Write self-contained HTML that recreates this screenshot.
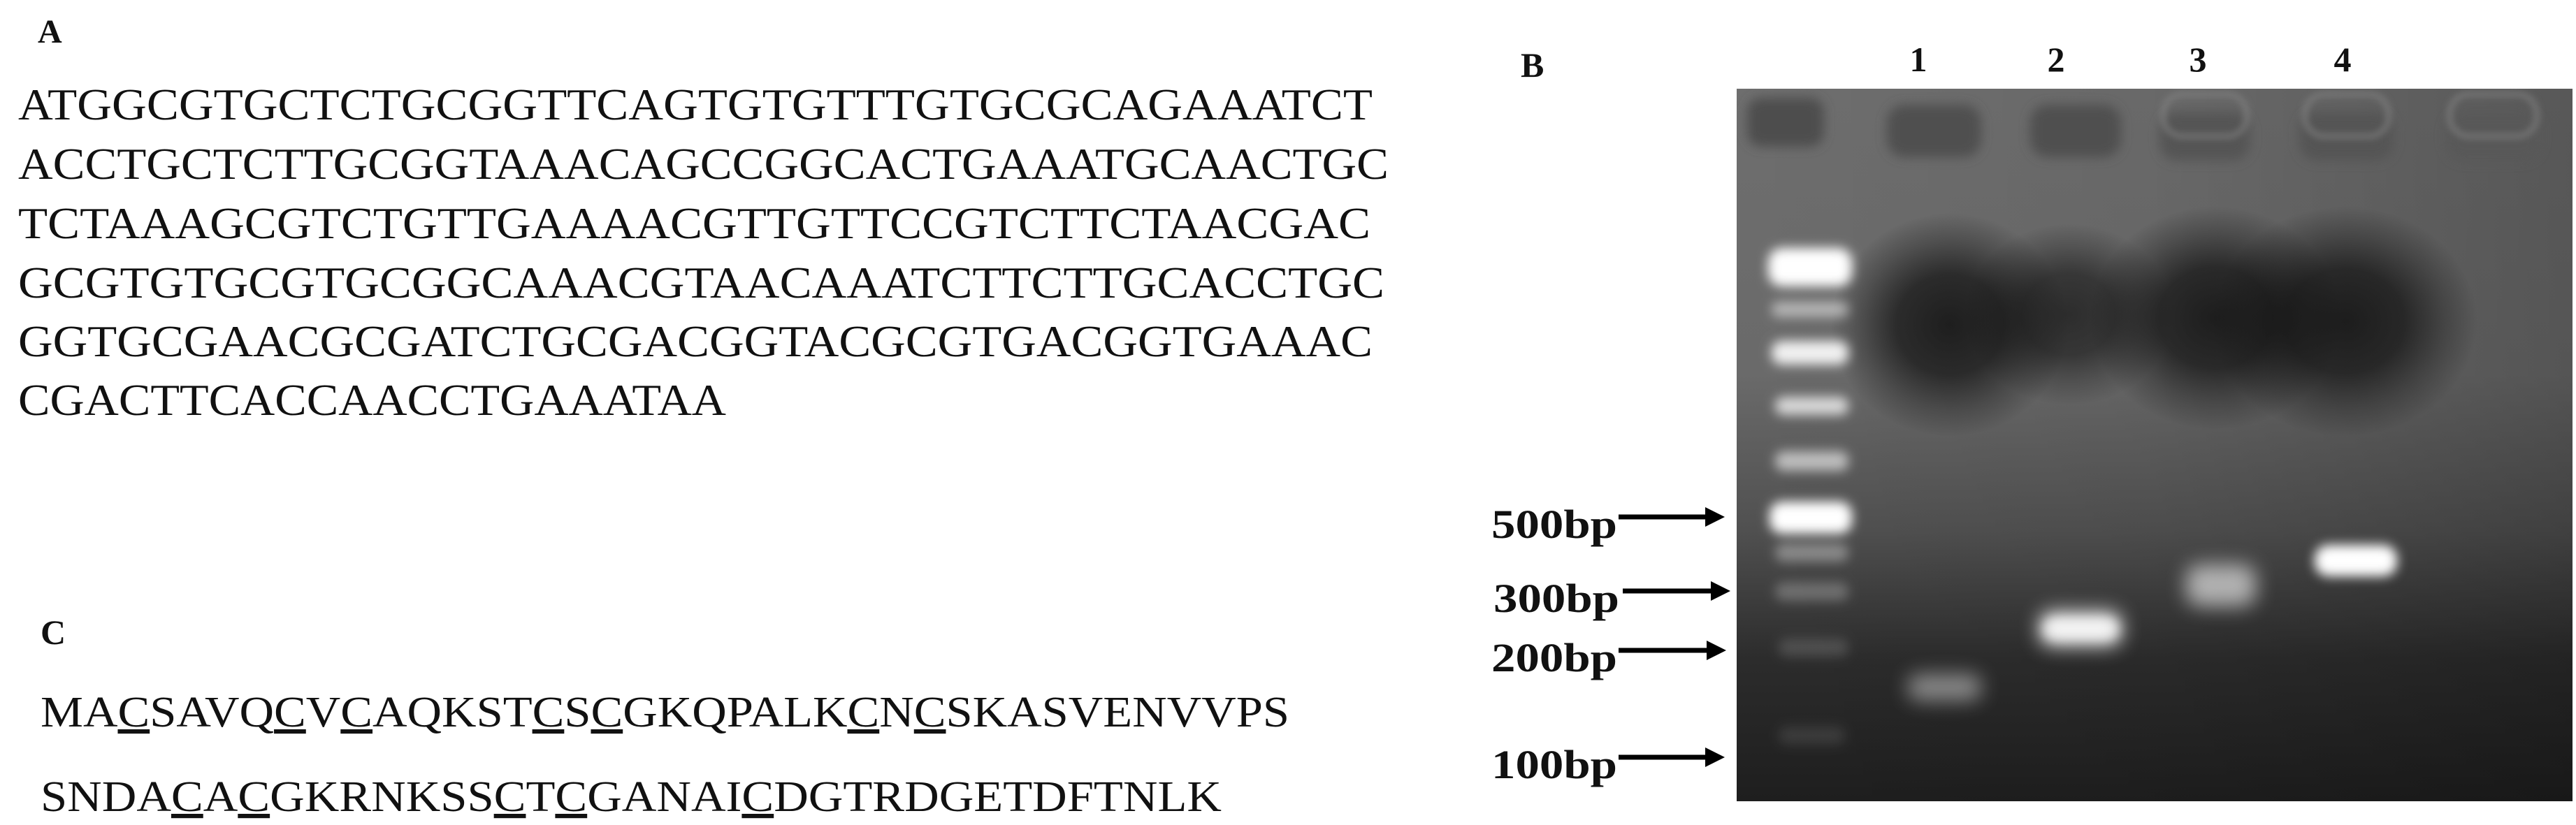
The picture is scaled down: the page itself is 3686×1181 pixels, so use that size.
<!DOCTYPE html>
<html><head><meta charset="utf-8"><style>
html,body{margin:0;padding:0;background:#fff;width:3686px;height:1181px;overflow:hidden;}
svg{display:block;}
</style></head><body>
<svg width="3686" height="1181" viewBox="0 0 3686 1181" xmlns="http://www.w3.org/2000/svg">
<defs>
<filter id="b8" filterUnits="userSpaceOnUse" x="2400" y="0" width="1400" height="1300"><feGaussianBlur stdDeviation="8"/></filter>
<filter id="b14" filterUnits="userSpaceOnUse" x="2400" y="0" width="1400" height="1300"><feGaussianBlur stdDeviation="14"/></filter>
<filter id="b5" filterUnits="userSpaceOnUse" x="2400" y="0" width="1400" height="1300"><feGaussianBlur stdDeviation="5"/></filter>
<radialGradient id="rd">
<stop offset="0" stop-color="#111" stop-opacity="0.85"/>
<stop offset="0.45" stop-color="#111" stop-opacity="0.7"/>
<stop offset="0.75" stop-color="#111" stop-opacity="0.3"/>
<stop offset="1" stop-color="#111" stop-opacity="0"/>
</radialGradient>
<linearGradient id="gv" x1="0" y1="0" x2="0" y2="1">
<stop offset="0" stop-color="#6e6e6e"/><stop offset="0.4" stop-color="#6a6a6a"/>
<stop offset="0.62" stop-color="#505050"/><stop offset="0.8" stop-color="#2c2c2c"/><stop offset="1" stop-color="#1e1e1e"/>
</linearGradient>
<linearGradient id="gh" x1="0" y1="0" x2="1" y2="0">
<stop offset="0" stop-color="#000" stop-opacity="0"/><stop offset="0.5" stop-color="#000" stop-opacity="0.05"/><stop offset="1" stop-color="#000" stop-opacity="0.2"/>
</linearGradient>
<clipPath id="gc"><rect x="2485" y="127" width="1196" height="1020"/></clipPath>
</defs>

<g font-family="'Liberation Serif', serif" fill="#111">
<text x="54" y="61" font-size="48" font-weight="bold">A</text>
<g font-size="64">
<text x="26" y="171" textLength="1938" lengthAdjust="spacingAndGlyphs">ATGGCGTGCTCTGCGGTTCAGTGTGTTTGTGCGCAGAAATCT</text>
<text x="26" y="256" textLength="1961" lengthAdjust="spacingAndGlyphs">ACCTGCTCTTGCGGTAAACAGCCGGCACTGAAATGCAACTGC</text>
<text x="26" y="341" textLength="1935" lengthAdjust="spacingAndGlyphs">TCTAAAGCGTCTGTTGAAAACGTTGTTCCGTCTTCTAACGAC</text>
<text x="26" y="426" textLength="1955" lengthAdjust="spacingAndGlyphs">GCGTGTGCGTGCGGCAAACGTAACAAATCTTCTTGCACCTGC</text>
<text x="26" y="510" textLength="1938" lengthAdjust="spacingAndGlyphs">GGTGCGAACGCGATCTGCGACGGTACGCGTGACGGTGAAAC</text>
<text x="26" y="594" textLength="1013" lengthAdjust="spacingAndGlyphs">CGACTTCACCAACCTGAAATAA</text>
</g>
<text x="58" y="922" font-size="50" font-weight="bold">C</text>
<g font-size="62">
<text x="58" y="1040" textLength="1787" lengthAdjust="spacingAndGlyphs">MA<tspan text-decoration="underline">C</tspan>SAVQ<tspan text-decoration="underline">C</tspan>V<tspan text-decoration="underline">C</tspan>AQKST<tspan text-decoration="underline">C</tspan>S<tspan text-decoration="underline">C</tspan>GKQPALK<tspan text-decoration="underline">C</tspan>N<tspan text-decoration="underline">C</tspan>SKASVENVVPS</text>
<text x="58" y="1161" textLength="1690" lengthAdjust="spacingAndGlyphs">SNDA<tspan text-decoration="underline">C</tspan>A<tspan text-decoration="underline">C</tspan>GKRNKSS<tspan text-decoration="underline">C</tspan>T<tspan text-decoration="underline">C</tspan>GANAI<tspan text-decoration="underline">C</tspan>DGTRDGETDFTNLK</text>
</g>

<text x="2176" y="110" font-size="50" font-weight="bold">B</text>
<g font-size="50" font-weight="bold" text-anchor="middle">
<text x="2745" y="102">1</text><text x="2942" y="102">2</text><text x="3145" y="102">3</text><text x="3352" y="102">4</text>
</g>
<g font-size="58" font-weight="bold">
<text x="2134" y="770" textLength="180" lengthAdjust="spacingAndGlyphs">500bp</text>
<text x="2137" y="876" textLength="180" lengthAdjust="spacingAndGlyphs">300bp</text>
<text x="2134" y="961" textLength="180" lengthAdjust="spacingAndGlyphs">200bp</text>
<text x="2134" y="1114" textLength="180" lengthAdjust="spacingAndGlyphs">100bp</text>
</g>
</g>
<g fill="#000" stroke="#000">
<line x1="2316" y1="740" x2="2448" y2="740" stroke-width="7"/><polygon points="2440,726 2468,740 2440,754" stroke="none"/>
<line x1="2322" y1="846" x2="2456" y2="846" stroke-width="7"/><polygon points="2448,832 2476,846 2448,860" stroke="none"/>
<line x1="2316" y1="931" x2="2450" y2="931" stroke-width="7"/><polygon points="2442,917 2470,931 2442,945" stroke="none"/>
<line x1="2316" y1="1084" x2="2448" y2="1084" stroke-width="7"/><polygon points="2440,1070 2468,1084 2440,1098" stroke="none"/>
</g>

<!-- gel -->
<g clip-path="url(#gc)">
<rect x="2485" y="127" width="1196" height="1020" fill="url(#gv)"/>
<rect x="2485" y="127" width="1196" height="1020" fill="url(#gh)"/>
<!-- wells -->
<g filter="url(#b8)">
<rect x="2500" y="140" width="110" height="70" rx="20" fill="#4e4e4e"/>
<rect x="2700" y="150" width="135" height="75" rx="25" fill="#505050"/>
<rect x="2905" y="150" width="130" height="75" rx="25" fill="#505050"/>
<rect x="3090" y="160" width="130" height="70" rx="25" fill="#545454"/>
<rect x="3290" y="160" width="135" height="70" rx="25" fill="#545454"/>
<rect x="3500" y="160" width="135" height="70" rx="25" fill="#585858"/>
</g>
<g fill="none" stroke="#8a8a8a" stroke-width="6" filter="url(#b5)" opacity="0.7">
<rect x="3095" y="135" width="120" height="60" rx="28"/>
<rect x="3298" y="135" width="120" height="60" rx="28"/>
<rect x="3505" y="135" width="125" height="60" rx="28"/>
</g>
<!-- dark smear -->
<ellipse cx="2790" cy="465" rx="170" ry="160" fill="url(#rd)"/>
<ellipse cx="2960" cy="450" rx="150" ry="130" fill="url(#rd)" opacity="0.8"/>
<ellipse cx="3170" cy="455" rx="180" ry="160" fill="url(#rd)"/>
<ellipse cx="3355" cy="460" rx="190" ry="165" fill="url(#rd)"/>
<!-- ladder -->
<g fill="#fff" filter="url(#b8)">
<rect x="2530" y="355" width="120" height="55" rx="20"/>
<rect x="2535" y="432" width="110" height="22" rx="10" opacity="0.5"/>
<rect x="2535" y="488" width="110" height="34" rx="14" opacity="0.9"/>
<rect x="2540" y="568" width="105" height="26" rx="12" opacity="0.75"/>
<rect x="2540" y="646" width="105" height="28" rx="12" opacity="0.6"/>
<rect x="2532" y="718" width="118" height="46" rx="18"/>
<rect x="2540" y="778" width="105" height="26" rx="12" opacity="0.35"/>
<rect x="2540" y="834" width="105" height="26" rx="12" opacity="0.25"/>
<rect x="2545" y="914" width="100" height="26" rx="12" opacity="0.15"/>
<rect x="2545" y="1040" width="95" height="26" rx="12" opacity="0.1"/>
</g>
<!-- samples -->
<g fill="#fff" filter="url(#b14)">
<rect x="2730" y="965" width="105" height="38" rx="15" opacity="0.45"/>
<rect x="2918" y="875" width="118" height="50" rx="18" opacity="0.85"/>
<rect x="3128" y="808" width="100" height="60" rx="20" opacity="0.6"/>
</g>
<g fill="#fff" filter="url(#b8)">
<rect x="3312" y="780" width="118" height="45" rx="20"/>
<rect x="2925" y="885" width="105" height="30" rx="14" opacity="0.7"/>
</g>
</g>
</svg>
</body></html>
